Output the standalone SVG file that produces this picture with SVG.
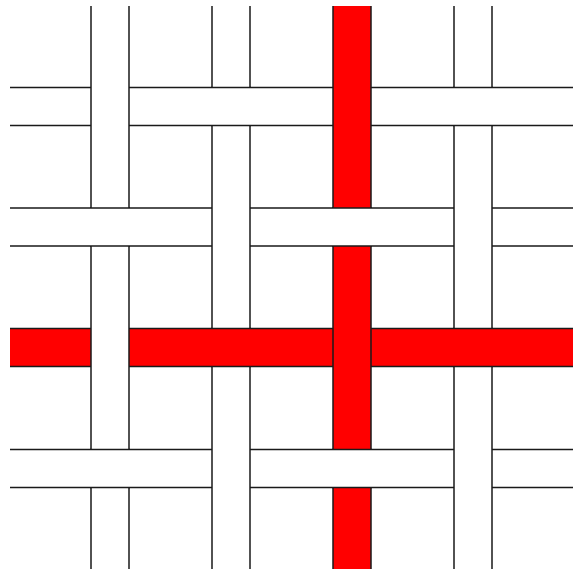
<svg xmlns="http://www.w3.org/2000/svg" width="577" height="573" viewBox="0 0 577 573">
<style>
.w{fill:#ffffff;stroke:none}
.r{fill:#ff0000;stroke:none}
.e{stroke:#1a1a1a;stroke-width:1.5;fill:none}
</style>
<rect width="577" height="573" fill="#ffffff"/>
<g id="horizontal-strips">
<rect class="w" x="10" y="87.5" width="563" height="38"/>
<path class="e" d="M10 87.5H573M10 125.5H573"/>
<rect class="w" x="10" y="208" width="563" height="38"/>
<path class="e" d="M10 208H573M10 246H573"/>
<rect class="r" x="10" y="328.5" width="563" height="38"/>
<path class="e" d="M10 328.5H573M10 366.5H573"/>
<rect class="w" x="10" y="449.5" width="563" height="38"/>
<path class="e" d="M10 449.5H573M10 487.5H573"/>
</g>
<g id="vertical-strips">
<rect class="w" x="91" y="6" width="38" height="563"/>
<path class="e" d="M91 6V569M129 6V569"/>
<rect class="w" x="212" y="6" width="38" height="563"/>
<path class="e" d="M212 6V569M250 6V569"/>
<rect class="r" x="333" y="6" width="38" height="563"/>
<path class="e" d="M333 6V569M371 6V569"/>
<rect class="w" x="454" y="6" width="38" height="563"/>
<path class="e" d="M454 6V569M492 6V569"/>
</g>
<g id="horizontal-over">
<rect class="w" x="211" y="87.5" width="40" height="38"/>
<path class="e" d="M211 87.5H251M211 125.5H251"/>
<rect class="w" x="453" y="87.5" width="40" height="38"/>
<path class="e" d="M453 87.5H493M453 125.5H493"/>
<rect class="w" x="90" y="208" width="40" height="38"/>
<path class="e" d="M90 208H130M90 246H130"/>
<rect class="w" x="332" y="208" width="40" height="38"/>
<path class="e" d="M332 208H372M332 246H372"/>
<rect class="r" x="211" y="328.5" width="40" height="38"/>
<path class="e" d="M211 328.5H251M211 366.5H251"/>
<rect class="r" x="453" y="328.5" width="40" height="38"/>
<path class="e" d="M453 328.5H493M453 366.5H493"/>
<rect class="w" x="90" y="449.5" width="40" height="38"/>
<path class="e" d="M90 449.5H130M90 487.5H130"/>
<rect class="w" x="332" y="449.5" width="40" height="38"/>
<path class="e" d="M332 449.5H372M332 487.5H372"/>
</g>
</svg>
